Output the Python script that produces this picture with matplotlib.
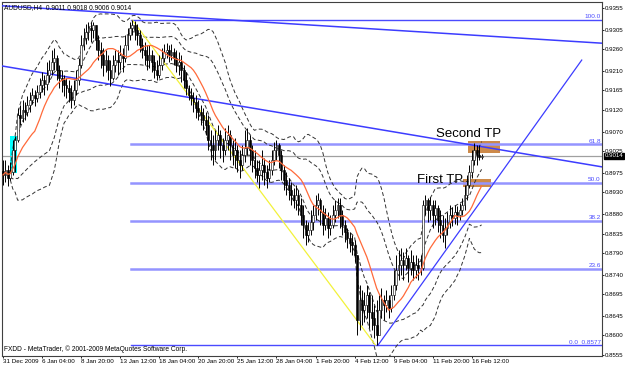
import numpy as np
import pandas as pd
import matplotlib
matplotlib.use('Agg')
import matplotlib.pyplot as plt
from matplotlib.patches import Rectangle
import matplotlib.transforms as mtransforms

# AUDUSD H4 bars (bar index 0 = 31 Dec 2009)
closes = [0.8970, 0.8982, 0.8963, 0.8977, 0.9028, 0.9051, 0.9108, 0.9101, 0.9120, 0.9115,
          0.9131, 0.9143, 0.9154, 0.9148, 0.9161, 0.9178, 0.9189, 0.9180, 0.9201, 0.9212,
          0.9231, 0.9240, 0.9212, 0.9194, 0.9189, 0.9178, 0.9171, 0.9161, 0.9143, 0.9166,
          0.9189, 0.9224, 0.9270, 0.9286, 0.9300, 0.9309, 0.9304, 0.9316, 0.9281, 0.9258,
          0.9247, 0.9224, 0.9235, 0.9212, 0.9194, 0.9224, 0.9235, 0.9231, 0.9247, 0.9240,
          0.9270, 0.9293, 0.9309, 0.9316, 0.9304, 0.9293, 0.9270, 0.9258, 0.9247, 0.9235,
          0.9247, 0.9231, 0.9212, 0.9201, 0.9224, 0.9240, 0.9254, 0.9258, 0.9247, 0.9254,
          0.9240, 0.9224, 0.9231, 0.9212, 0.9189, 0.9171, 0.9154, 0.9148, 0.9138, 0.9124,
          0.9115, 0.9108, 0.9097, 0.9085, 0.9051, 0.9039, 0.9028, 0.9051, 0.9062, 0.9039,
          0.9028, 0.9051, 0.9062, 0.9039, 0.9016, 0.9028, 0.9005, 0.8993, 0.9016, 0.9032,
          0.9051, 0.9028, 0.9005, 0.8986, 0.8970, 0.8982, 0.8993, 0.8977, 0.8963, 0.8982,
          0.9005, 0.9028, 0.9039, 0.9016, 0.8982, 0.8958, 0.8947, 0.8935, 0.8924, 0.8912,
          0.8924, 0.8901, 0.8878, 0.8855, 0.8831, 0.8843, 0.8862, 0.8878, 0.8901, 0.8912,
          0.8885, 0.8855, 0.8871, 0.8848, 0.8855, 0.8878, 0.8889, 0.8901, 0.8878, 0.8855,
          0.8838, 0.8825, 0.8815, 0.8808, 0.8785, 0.8636, 0.8682, 0.8659, 0.8670, 0.8693,
          0.8654, 0.8640, 0.8624, 0.8601, 0.8659, 0.8682, 0.8670, 0.8682, 0.8663, 0.8693,
          0.8716, 0.8751, 0.8762, 0.8774, 0.8762, 0.8779, 0.8755, 0.8769, 0.8751, 0.8762,
          0.8755, 0.8755, 0.8901, 0.8912, 0.8889, 0.8901, 0.8878, 0.8894, 0.8866, 0.8855,
          0.8831, 0.8848, 0.8862, 0.8878, 0.8871, 0.8885, 0.8878, 0.8889, 0.8901, 0.8924,
          0.8947, 0.8977, 0.9005, 0.9028, 0.9016, 0.9011, 0.9014]
highs = [0.9005, 0.9005, 0.8993, 0.9000, 0.9051, 0.9060, 0.9124, 0.9131, 0.9143, 0.9138,
         0.9152, 0.9161, 0.9171, 0.9166, 0.9178, 0.9194, 0.9208, 0.9201, 0.9231, 0.9235,
         0.9258, 0.9263, 0.9247, 0.9224, 0.9212, 0.9201, 0.9194, 0.9189, 0.9178, 0.9189,
         0.9212, 0.9240, 0.9293, 0.9309, 0.9318, 0.9323, 0.9323, 0.9323, 0.9316, 0.9293,
         0.9277, 0.9263, 0.9258, 0.9247, 0.9235, 0.9247, 0.9258, 0.9258, 0.9270, 0.9263,
         0.9293, 0.9309, 0.9323, 0.9327, 0.9325, 0.9318, 0.9304, 0.9286, 0.9277, 0.9270,
         0.9270, 0.9258, 0.9247, 0.9235, 0.9247, 0.9263, 0.9272, 0.9274, 0.9270, 0.9272,
         0.9263, 0.9258, 0.9254, 0.9247, 0.9224, 0.9208, 0.9178, 0.9171, 0.9161, 0.9154,
         0.9143, 0.9131, 0.9124, 0.9115, 0.9108, 0.9074, 0.9062, 0.9074, 0.9085, 0.9074,
         0.9055, 0.9078, 0.9085, 0.9074, 0.9051, 0.9055, 0.9039, 0.9028, 0.9039, 0.9074,
         0.9078, 0.9062, 0.9039, 0.9028, 0.9005, 0.9005, 0.9028, 0.9009, 0.8993, 0.9005,
         0.9028, 0.9046, 0.9051, 0.9044, 0.9028, 0.8993, 0.8977, 0.8963, 0.8954, 0.8940,
         0.8947, 0.8935, 0.8917, 0.8901, 0.8866, 0.8862, 0.8889, 0.8901, 0.8924, 0.8929,
         0.8917, 0.8901, 0.8894, 0.8885, 0.8878, 0.8901, 0.8912, 0.8917, 0.8917, 0.8889,
         0.8866, 0.8848, 0.8838, 0.8831, 0.8820, 0.8785, 0.8716, 0.8705, 0.8700, 0.8716,
         0.8700, 0.8693, 0.8670, 0.8682, 0.8693, 0.8709, 0.8693, 0.8705, 0.8693, 0.8716,
         0.8751, 0.8785, 0.8797, 0.8801, 0.8792, 0.8801, 0.8785, 0.8797, 0.8785, 0.8785,
         0.8779, 0.8785, 0.8912, 0.8924, 0.8917, 0.8919, 0.8912, 0.8912, 0.8901, 0.8889,
         0.8878, 0.8871, 0.8885, 0.8901, 0.8896, 0.8901, 0.8898, 0.8905, 0.8917, 0.8947,
         0.8970, 0.8993, 0.9028, 0.9044, 0.9039, 0.9039, 0.9018]
lows = [0.8947, 0.8954, 0.8945, 0.8958, 0.8970, 0.8977, 0.9046, 0.9085, 0.9092, 0.9097,
        0.9106, 0.9115, 0.9134, 0.9129, 0.9138, 0.9148, 0.9161, 0.9154, 0.9166, 0.9185,
        0.9201, 0.9212, 0.9189, 0.9171, 0.9161, 0.9152, 0.9148, 0.9138, 0.9124, 0.9131,
        0.9154, 0.9178, 0.9217, 0.9258, 0.9272, 0.9281, 0.9277, 0.9286, 0.9258, 0.9235,
        0.9217, 0.9198, 0.9208, 0.9189, 0.9175, 0.9189, 0.9208, 0.9201, 0.9212, 0.9208,
        0.9231, 0.9258, 0.9281, 0.9293, 0.9281, 0.9270, 0.9254, 0.9240, 0.9224, 0.9212,
        0.9217, 0.9208, 0.9194, 0.9189, 0.9194, 0.9212, 0.9231, 0.9240, 0.9231, 0.9235,
        0.9224, 0.9208, 0.9201, 0.9185, 0.9171, 0.9154, 0.9143, 0.9131, 0.9115, 0.9101,
        0.9097, 0.9085, 0.9074, 0.9062, 0.9028, 0.9005, 0.8993, 0.9005, 0.9028, 0.9009,
        0.9000, 0.9016, 0.9028, 0.9005, 0.8993, 0.8986, 0.8977, 0.8963, 0.8982, 0.9000,
        0.9016, 0.8993, 0.8977, 0.8963, 0.8954, 0.8940, 0.8958, 0.8947, 0.8940, 0.8954,
        0.8970, 0.8993, 0.9005, 0.8986, 0.8958, 0.8935, 0.8924, 0.8912, 0.8901, 0.8894,
        0.8889, 0.8878, 0.8855, 0.8825, 0.8808, 0.8815, 0.8831, 0.8843, 0.8866, 0.8878,
        0.8855, 0.8831, 0.8843, 0.8825, 0.8831, 0.8848, 0.8862, 0.8871, 0.8848, 0.8831,
        0.8815, 0.8801, 0.8792, 0.8785, 0.8769, 0.8601, 0.8612, 0.8624, 0.8631, 0.8640,
        0.8617, 0.8612, 0.8594, 0.8577, 0.8612, 0.8640, 0.8636, 0.8654, 0.8640, 0.8654,
        0.8682, 0.8705, 0.8728, 0.8739, 0.8728, 0.8751, 0.8723, 0.8739, 0.8728, 0.8732,
        0.8728, 0.8739, 0.8751, 0.8878, 0.8862, 0.8866, 0.8848, 0.8855, 0.8838, 0.8825,
        0.8815, 0.8801, 0.8831, 0.8848, 0.8852, 0.8857, 0.8855, 0.8866, 0.8878, 0.8889,
        0.8912, 0.8940, 0.8963, 0.8993, 0.8993, 0.9005, 0.9006]
first_open = 0.8980

date_labels = ['31 Dec 2009', '6 Jan 04:00', '8 Jan 20:00', '13 Jan 12:00', '18 Jan 04:00',
               '20 Jan 20:00', '25 Jan 12:00', '28 Jan 04:00', '1 Feb 20:00', '4 Feb 12:00',
               '9 Feb 04:00', '11 Feb 20:00', '16 Feb 12:00']
bars_per_label = 16
price_ticks = [0.9355, 0.9305, 0.9260, 0.9210, 0.9165, 0.9120, 0.9070, 0.9025, 0.8975,
               0.8930, 0.8880, 0.8835, 0.8790, 0.8740, 0.8695, 0.8645, 0.8600, 0.8555]
last_price = 0.9014

# fibonacci retracement: swing high bar 53 to swing low bar 153
fib_start_bar = 52.5
fib_high = 0.9327
fib_low = 0.8577
fib_levels = [100.0, 61.8, 50.0, 38.2, 23.6, 0.0]

# trend lines as (bar, price) anchors
upper_channel = [(0, 0.9360), (245, 0.9274)]
mid_channel = [(0, 0.9221), (245, 0.8989)]
rising_line = [(153.5, 0.8577), (237, 0.9235)]
yellow_line = [(53, 0.9327), (152.5, 0.8578)]

# highlighted zones
cyan_zone = [(2.9, 5.7), (0.8975, 0.9060)]
second_tp = [(190.4, 203.4), (0.9021, 0.9048)]
first_tp = [(188.3, 199.8), (0.8942, 0.8961)]

ma_period = 14
bb_period = 20

n = len(closes)
idx = np.arange(n)
c = np.array(closes)
h = np.array(highs)
l = np.array(lows)
o = np.concatenate([[first_open], c[:-1]])

s = pd.Series(c)
ma = s.rolling(ma_period, min_periods=1).mean()
bb_mid = s.rolling(bb_period, min_periods=4).mean()
bb_std = s.rolling(bb_period, min_periods=4).std(ddof=0)

fig = plt.figure(figsize=(6.25, 3.68), dpi=100)
ax = fig.add_axes([2 / 625, 12 / 368, 600 / 625, 354 / 368])
ax.set_xlim(-0.4, 245.3)
ax.set_ylim(0.85526, 0.93689)

font = 'Liberation Sans'

# highlight zones
ax.add_patch(Rectangle((cyan_zone[0][0], cyan_zone[1][0]), cyan_zone[0][1] - cyan_zone[0][0],
                       cyan_zone[1][1] - cyan_zone[1][0], color='#00ffff', zorder=1, lw=0))
for zone in (second_tp, first_tp):
    ax.add_patch(Rectangle((zone[0][0], zone[1][0]), zone[0][1] - zone[0][0],
                           zone[1][1] - zone[1][0], color='#cd8a4a', zorder=1, lw=0))

# current price line
ax.axhline(last_price, color='#a0a0a0', lw=0.9, zorder=1.5)

# fibonacci levels
rng = fib_high - fib_low
for lvl in fib_levels:
    p = fib_low + rng * lvl / 100
    if lvl in (0.0, 100.0):
        ax.plot([fib_start_bar, 245.3], [p, p], color='#4a4aff', lw=1.0, zorder=2)
    else:
        ax.plot([fib_start_bar, 245.3], [p, p], color='#9494ff', lw=1.8, zorder=2)
    lab = '%.1f' % lvl
    if lvl == 0.0:
        lab = '0.0  %.4f' % fib_low
    ax.text(244.8, p + 0.0002, lab, color='#4a4aff', fontsize=4.6, family=font,
            ha='right', va='bottom', zorder=5)

# bands and moving average
dash = (0, (4, 2.5))
ax.plot(idx, bb_mid + 2 * bb_std, color='#333333', lw=0.7, ls=dash, zorder=2.5)
ax.plot(idx, bb_mid - 2 * bb_std, color='#333333', lw=0.7, ls=dash, zorder=2.5)
ax.plot(idx, bb_mid + 1 * bb_std, color='#333333', lw=0.7, ls=dash, zorder=2.5)
ax.plot(idx, bb_mid - 1 * bb_std, color='#333333', lw=0.7, ls=dash, zorder=2.5)
ax.plot(idx, ma, color='#ff6a3a', lw=0.9, zorder=4)

# candles
ax.vlines(idx, l, h, color='black', lw=0.7, zorder=3)
bull = c >= o
body_lo = np.minimum(o, c)
body_h = np.maximum(np.abs(c - o), 0.00008)
ax.bar(idx[bull], body_h[bull], bottom=body_lo[bull], width=0.75, color='white',
       edgecolor='black', lw=0.4, zorder=3.2)
ax.bar(idx[~bull], body_h[~bull], bottom=body_lo[~bull], width=0.75, color='black',
       edgecolor='black', lw=0.4, zorder=3.2)

# trend lines
ax.axline(upper_channel[0], upper_channel[1], color='#3c3cff', lw=1.1, zorder=2.8)
ax.axline(mid_channel[0], mid_channel[1], color='#3c3cff', lw=1.1, zorder=2.8)
ax.plot([p[0] for p in rising_line], [p[1] for p in rising_line], color='#3c3cff', lw=0.9, zorder=2.8)
ax.plot([p[0] for p in yellow_line], [p[1] for p in yellow_line], color='#f2f23a', lw=0.9, zorder=2.6)

# TP labels
ax.text(190.5, 0.9064, 'Second TP', fontsize=9.5, family=font, ha='center', va='center', zorder=6)
ax.text(179, 0.8958, 'First TP', fontsize=9.5, family=font, ha='center', va='center', zorder=6)

# header and footer
ax.text(0.004, 0.995, 'AUDUSD,H4  0.9011 0.9018 0.9006 0.9014', transform=ax.transAxes,
        fontsize=4.8, family=font, ha='left', va='top')
ax.text(0.004, 0.008, 'FXDD - MetaTrader, \u00a9 2001-2009 MetaQuotes Software Corp.',
        transform=ax.transAxes, fontsize=4.8, family=font, ha='left', va='bottom')

# axes
ax.yaxis.tick_right()
ax.set_yticks(price_ticks)
ax.set_yticklabels(['%.4f' % t for t in price_ticks], fontsize=4.4, family=font)
ax.set_xticks(np.arange(len(date_labels)) * bars_per_label)
ax.set_xticklabels(date_labels, fontsize=4.5, family=font, ha='left')
ax.tick_params(axis='both', length=1.5, width=0.6, pad=0.8, colors='black')
for sp in ax.spines.values():
    sp.set_linewidth(0.8)
    sp.set_color('#404040')

ax.text(1.004, last_price, '%.4f' % last_price,
        transform=mtransforms.blended_transform_factory(ax.transAxes, ax.transData),
        fontsize=4.4, family=font, ha='left', va='center', color='white',
        bbox=dict(boxstyle='square,pad=0.1', fc='black', ec='black'), zorder=10, clip_on=False)

fig.savefig('out.png', dpi=100)
